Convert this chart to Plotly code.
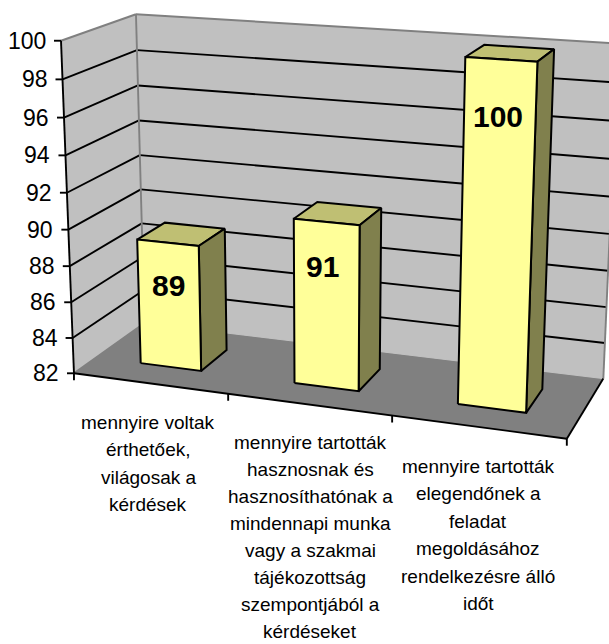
import numpy as np
import plotly.graph_objects as go

# ---- data ----
categories = [
    ["mennyire voltak", "érthetőek,", "világosak a", "kérdések"],
    ["mennyire tartották", "hasznosnak és", "hasznosíthatónak a", "mindennapi munka",
     "vagy a szakmai", "tájékozottság", "szempontjából a", "kérdéseket"],
    ["mennyire tartották", "elegendőnek a", "feladat", "megoldásához",
     "rendelkezésre álló", "időt"],
]
values = [89, 91, 100]
value_ticks = [82, 84, 86, 88, 90, 92, 94, 96, 98, 100]

# ---- styling / layout ----
W, H = 609, 644
V_MIN, V_MAX = value_ticks[0], value_ticks[-1]
GAP = 0.3              # gap on each side of a bar, fraction of category
D_FRONT, D_BACK = 0.3, 0.7
FONT = "Liberation Sans"
WALL, FLOOR, EDGE = "#C0C0C0", "#808080", "#808080"
BAR_FRONT, BAR_TOP, BAR_SIDE = "#FFFF99", "#BFBF73", "#80804D"
LABEL_DROP = [2.4, 2.4, 2.8]          # data label drop under the bar top, in value units
LABEL_DX = [0, -4, -2]                # data label nudge, pixels
LABEL_TOPS = [422, 442, 466]          # first line of each category label, pixels
LABEL_X = [148, 310, 478]
LINE_H = [27.55, 27.1, 27.55]

# Camera: projective map (u, d, w) -> pixel, calibrated on the plot box corners
calib = [((0, 0, 0), (75, 374)), ((0, 0, 1), (60, 40)), ((0, 1, 0), (143, 323)),
         ((0, 1, 1), (137, 15)), ((1, 1, 0), (604, 378)), ((1, 1, 1), (618, 43.5)),
         ((1, 0, 0), (566, 440)), ((1/3, 0, 0), (229, 393)), ((2/3, 0, 0), (392, 415))]
A = []
for (u, d, w), (px, py) in calib:
    A.append([u, d, w, 1, 0, 0, 0, 0, -px*u, -px*d, -px*w, -px])
    A.append([0, 0, 0, 0, u, d, w, 1, -py*u, -py*d, -py*w, -py])
P = np.linalg.svd(np.array(A, float))[2][-1].reshape(3, 4)


def proj(cat, d, v):
    """cat: category position 0..3, d: depth 0..1, v: value"""
    p = P @ np.array([cat / 3, d, (v - V_MIN) / (V_MAX - V_MIN), 1.0])
    return p[0] / p[2], p[1] / p[2]


fig = go.Figure()


def poly(pts, fill, line=None, width=2):
    xs, ys = zip(*pts)
    fig.add_trace(go.Scatter(x=list(xs) + [xs[0]], y=list(ys) + [ys[0]], mode="lines",
                             fill="toself", fillcolor=fill,
                             line=dict(color=line or fill, width=width if line else 0),
                             hoverinfo="skip", showlegend=False))


def seg(a, b, color="black", width=1.9):
    fig.add_trace(go.Scatter(x=[a[0], b[0]], y=[a[1], b[1]], mode="lines",
                             line=dict(color=color, width=width),
                             hoverinfo="skip", showlegend=False))


n = len(categories)
# walls and floor
poly([proj(0, 0, V_MIN), proj(0, 1, V_MIN), proj(0, 1, V_MAX), proj(0, 0, V_MAX)], WALL)
poly([proj(0, 1, V_MIN), proj(n, 1, V_MIN), proj(n, 1, V_MAX), proj(0, 1, V_MAX)], WALL)
poly([proj(0, 0, V_MIN), proj(n, 0, V_MIN), proj(n, 1, V_MIN), proj(0, 1, V_MIN)], FLOOR)

# gridlines
for v in value_ticks[1:-1]:
    seg(proj(0, 0, v), proj(0, 1, v))
    seg(proj(0, 1, v), proj(n, 1, v))

# wall borders
seg(proj(0, 1, V_MIN), proj(0, 1, V_MAX), EDGE)
seg(proj(0, 1, V_MAX), proj(n, 1, V_MAX), EDGE, 2)
seg(proj(0, 0, V_MAX), proj(0, 1, V_MAX), EDGE, 2)
seg(proj(n, 1, V_MIN), proj(n, 1, V_MAX), EDGE)
seg(proj(0, 0, V_MIN), proj(0, 1, V_MIN), EDGE)
seg(proj(0, 1, V_MIN), proj(n, 1, V_MIN), WALL, 1)

# axes
seg(proj(0, 0, V_MIN), proj(0, 0, V_MAX))
seg(proj(0, 0, V_MIN), proj(n, 0, V_MIN))
seg(proj(n, 0, V_MIN), proj(n, 1, V_MIN))
annotations = []
for v in value_ticks:
    x, y = proj(0, 0, v)
    seg((x - 7, y), (x, y))
    annotations.append(dict(x=x - 15, y=y, text=str(v), xanchor="right", yanchor="middle",
                            xshift=2, showarrow=False, font=dict(family=FONT, size=23, color="black")))
for i in range(n + 1):
    x, y = proj(i, 0, V_MIN)
    seg((x, y), (x, y + 7))

# bars
for i, val in enumerate(values):
    u0, u1 = i + GAP, i + 1 - GAP
    poly([proj(u0, D_FRONT, val), proj(u1, D_FRONT, val), proj(u1, D_BACK, val), proj(u0, D_BACK, val)],
         BAR_TOP, "black", 2)
    poly([proj(u1, D_FRONT, V_MIN), proj(u1, D_BACK, V_MIN), proj(u1, D_BACK, val), proj(u1, D_FRONT, val)],
         BAR_SIDE, "black", 2)
    poly([proj(u0, D_FRONT, V_MIN), proj(u1, D_FRONT, V_MIN), proj(u1, D_FRONT, val), proj(u0, D_FRONT, val)],
         BAR_FRONT, "black", 2)
    x, y = proj(i + 0.5, D_FRONT, val - LABEL_DROP[i])
    annotations.append(dict(x=x + LABEL_DX[i], y=y, text=f"<b>{val}</b>", showarrow=False,
                            xanchor="center", yanchor="middle",
                            font=dict(family=FONT, size=30, color="black")))

# category labels, one text per line for the wide line pitch
for i, lines in enumerate(categories):
    for j, line in enumerate(lines):
        annotations.append(dict(x=LABEL_X[i], y=LABEL_TOPS[i] + j * LINE_H[i], text=line, showarrow=False,
                                xanchor="center", yanchor="middle", borderpad=0,
                                font=dict(family=FONT, size=19, color="black")))

fig.update_layout(width=W, height=H, margin=dict(l=0, r=0, t=0, b=0), paper_bgcolor="white",
                  plot_bgcolor="white", showlegend=False, annotations=annotations,
                  xaxis=dict(range=[0, W], visible=False, fixedrange=True),
                  yaxis=dict(range=[H, 0], visible=False, fixedrange=True))

fig.write_html("out.html", config=dict(displayModeBar=False),
               post_script="document.body.style.margin='0';document.body.style.overflow='hidden';")
